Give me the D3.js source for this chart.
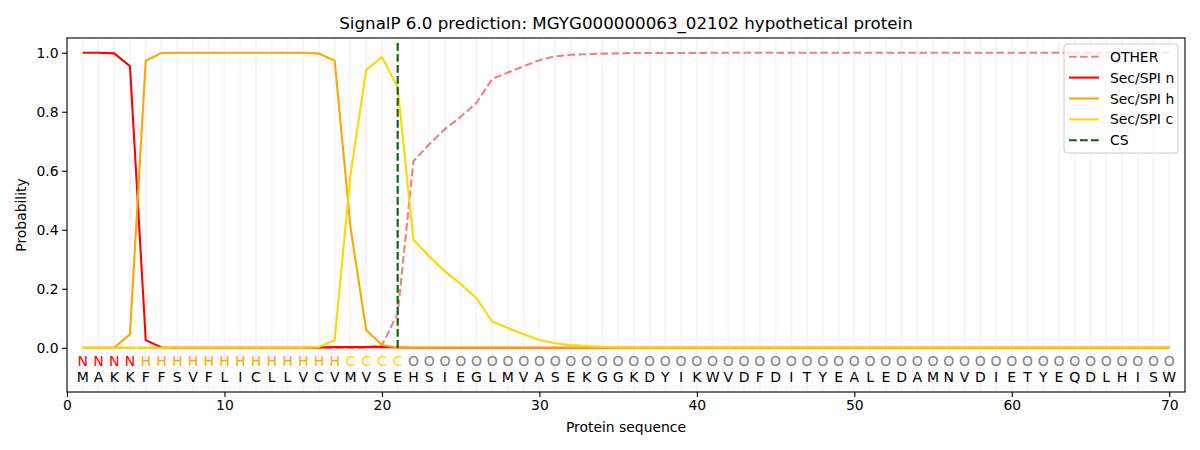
<!DOCTYPE html>
<html>
<head>
<meta charset="utf-8">
<script src="https://cdn.jsdelivr.net/npm/d3@7"></script>
<style>
  body { margin: 0; background: #fff; }
  svg { font-family: "DejaVu Sans", sans-serif; }
</style>
</head>
<body>
<div id="vis-container"></div>
<script>
// Residues and per-position labels
const residues = "MAKKFFSVFLICLLVCVMVSEHSIEGLMVASEKGGKDYIKWVDFDITYEALEDAMNVDIETYEQDLHISW".split("");
const regionLabels = "NNNNHHHHHHHHHHHHHCCCCOOOOOOOOOOOOOOOOOOOOOOOOOOOOOOOOOOOOOOOOOOOOOOOOO".split("");

// Probabilities, positions 1..70
const otherProb = [0,0,0,0,0,0,0,0,0,0,0,0,0,0,0,0,0,0,0.001,0.008,
  0.116,0.632,0.69,0.741,0.783,0.83,0.911,0.933,0.954,0.975,
  0.988,0.993,0.995,0.997,0.998,0.999,0.999,0.999,0.999,0.999,
  1,1,1,1,1,1,1,1,1,1,1,1,1,1,1,1,1,1,1,1,1,1,1,1,1,1,1,1,1,1];
const secN = [1,1,0.998,0.954,0.026,0.001,0,0,0,0,0,0,0,0,0,0.001,0.002,0.002,0.002,0.003,
  0.001,0,0,0,0,0,0,0,0,0,0,0,0,0,0,0,0,0,0,0,
  0,0,0,0,0,0,0,0,0,0,0,0,0,0,0,0,0,0,0,0,0,0,0,0,0,0,0,0,0,0];
const secH = [0,0,0.001,0.046,0.973,0.999,1,1,1,1,1,1,1,1,1,0.997,0.973,0.41,0.06,0.009,
  0.001,0,0,0,0,0,0,0,0,0,0,0,0,0,0,0,0,0,0,0,
  0,0,0,0,0,0,0,0,0,0,0,0,0,0,0,0,0,0,0,0,0,0,0,0,0,0,0,0,0,0];
const secC = [0,0,0,0,0,0,0,0,0,0,0,0,0,0,0,0.003,0.026,0.585,0.941,0.986,
  0.882,0.366,0.31,0.259,0.216,0.168,0.089,0.067,0.046,0.026,
  0.015,0.009,0.006,0.003,0.002,0.001,0.001,0.001,0.001,0.001,
  0.001,0.001,0.001,0.001,0.001,0.001,0.001,0.001,0.001,0.001,
  0.001,0.001,0.001,0.001,0.001,0.001,0.001,0.001,0.001,0.001,
  0.001,0.001,0.001,0.001,0.001,0.001,0.001,0.001,0.001,0.001];
const csPos = 21;

const xTicks = [0, 10, 20, 30, 40, 50, 60, 70];
const yTicks = [0, 0.2, 0.4, 0.6, 0.8, 1.0];

const series = [
  { name: "OTHER", values: otherProb, color: "#f08080", dash: "7.7,3.3" },
  { name: "Sec/SPI n", values: secN, color: "#ff0000", dash: null },
  { name: "Sec/SPI h", values: secH, color: "#ffa500", dash: null },
  { name: "Sec/SPI c", values: secC, color: "#ffd700", dash: null }
];
const labelColor = { N: "#ff0000", H: "#ffa500", C: "#ffd700", O: "#808080" };

// Set margins and dimensions
const width = 1200;
const height = 450;
const margin = { top: 38, right: 15, bottom: 58, left: 67 };

const svg = d3.select("#vis-container")
  .append("svg")
  .attr("width", width)
  .attr("height", height);

const xScale = d3.scaleLinear()
  .domain([0, 71])
  .range([margin.left, width - margin.right]);

const yScale = d3.scaleLinear()
  .domain([-0.15, 1.05])
  .range([height - margin.bottom, margin.top]);

const positions = residues.map((d, i) => i + 1);

// vertical guide at every residue
svg.append("g")
  .selectAll("line")
  .data(positions)
  .enter()
  .append("line")
  .attr("x1", d => xScale(d))
  .attr("x2", d => xScale(d))
  .attr("y1", margin.top)
  .attr("y2", height - margin.bottom)
  .attr("stroke", "#000")
  .attr("stroke-opacity", 0.045)
  .attr("stroke-width", 2);

// probability lines
const line = d3.line()
  .x((d, i) => xScale(i + 1))
  .y(d => yScale(d));

series.forEach(s => {
  svg.append("path")
    .datum(s.values)
    .attr("d", line)
    .attr("fill", "none")
    .attr("stroke", s.color)
    .attr("stroke-width", 2.08)
    .attr("stroke-dasharray", s.dash);
});

// cleavage site
svg.append("line")
  .attr("x1", xScale(csPos))
  .attr("x2", xScale(csPos))
  .attr("y1", yScale(0))
  .attr("y2", yScale(1.038))
  .attr("stroke", "#006400")
  .attr("stroke-width", 2.08)
  .attr("stroke-dasharray", "7.7,3.3");

// sequence letters
svg.append("g")
  .selectAll("text")
  .data(regionLabels)
  .enter()
  .append("text")
  .attr("x", (d, i) => xScale(i + 1))
  .attr("y", 366)
  .attr("text-anchor", "middle")
  .attr("font-size", "14px")
  .attr("fill", d => labelColor[d])
  .text(d => d);

svg.append("g")
  .selectAll("text")
  .data(residues)
  .enter()
  .append("text")
  .attr("x", (d, i) => xScale(i + 1))
  .attr("y", 382)
  .attr("text-anchor", "middle")
  .attr("font-size", "14px")
  .attr("fill", "#000")
  .text(d => d);

// axes
svg.append("g")
  .attr("transform", `translate(0,${height - margin.bottom})`)
  .call(d3.axisBottom(xScale).tickValues(xTicks).tickSize(4.9).tickPadding(3.5).tickSizeOuter(0))
  .call(g => g.select(".domain").remove())
  .attr("font-size", "13.9px")
  .attr("font-family", "DejaVu Sans, sans-serif");

svg.append("g")
  .attr("transform", `translate(${margin.left},0)`)
  .call(d3.axisLeft(yScale).tickValues(yTicks).tickFormat(d3.format(".1f")).tickSize(4.9).tickPadding(3.5).tickSizeOuter(0))
  .call(g => g.select(".domain").remove())
  .attr("font-size", "13.9px")
  .attr("font-family", "DejaVu Sans, sans-serif");

svg.selectAll(".tick line").attr("stroke-width", 1.1);

// frame
svg.append("rect")
  .attr("x", margin.left)
  .attr("y", margin.top)
  .attr("width", width - margin.left - margin.right)
  .attr("height", height - margin.top - margin.bottom)
  .attr("fill", "none")
  .attr("stroke", "#000")
  .attr("stroke-width", 1.1);

// titles
svg.append("text")
  .attr("x", (margin.left + width - margin.right) / 2)
  .attr("y", 29)
  .attr("text-anchor", "middle")
  .attr("font-size", "16.7px")
  .text("SignalP 6.0 prediction: MGYG000000063_02102 hypothetical protein");

svg.append("text")
  .attr("x", (margin.left + width - margin.right) / 2)
  .attr("y", 432)
  .attr("text-anchor", "middle")
  .attr("font-size", "13.9px")
  .text("Protein sequence");

svg.append("text")
  .attr("transform", `translate(26,${(margin.top + height - margin.bottom) / 2}) rotate(-90)`)
  .attr("text-anchor", "middle")
  .attr("font-size", "13.9px")
  .text("Probability");

// legend
const legendItems = series.map(s => ({ name: s.name, color: s.color, dash: s.dash }))
  .concat([{ name: "CS", color: "#006400", dash: "7.7,3.3" }]);

const legend = svg.append("g").attr("transform", "translate(1064,44)");
legend.append("rect")
  .attr("width", 114)
  .attr("height", 109)
  .attr("rx", 3)
  .attr("fill", "#fff")
  .attr("fill-opacity", 0.8)
  .attr("stroke", "#cccccc");

legendItems.forEach((d, i) => {
  const y = 12.7 + i * 20.9;
  legend.append("line")
    .attr("x1", 5)
    .attr("x2", 35)
    .attr("y1", y)
    .attr("y2", y)
    .attr("stroke", d.color)
    .attr("stroke-width", 2.08)
    .attr("stroke-dasharray", d.dash);
  legend.append("text")
    .attr("x", 46)
    .attr("y", y + 5)
    .attr("font-size", "13.9px")
    .text(d.name);
});
</script>
</body>
</html>
